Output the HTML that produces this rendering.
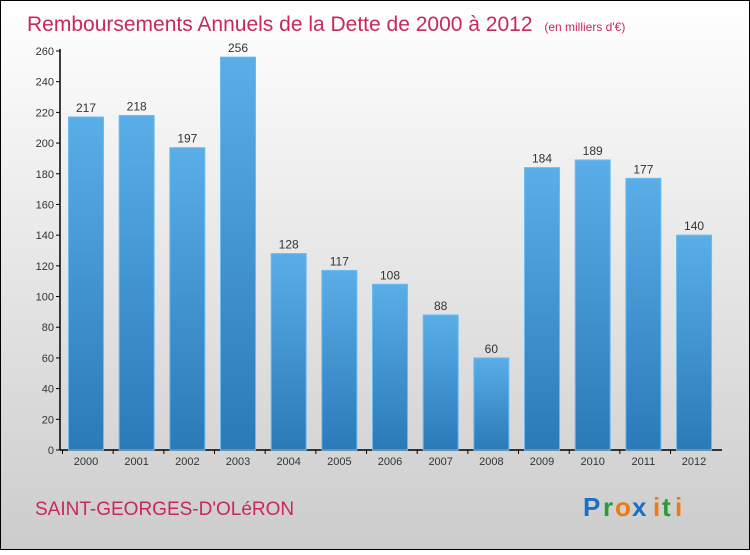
<!DOCTYPE html>
<html><head><meta charset="utf-8"><style>
body{margin:0;width:750px;height:550px;overflow:hidden;font-family:"Liberation Sans",sans-serif}
</style></head><body>
<svg width="750" height="550" xmlns="http://www.w3.org/2000/svg">
<defs>
<linearGradient id="bg" x1="0" y1="0" x2="0" y2="1"><stop offset="0" stop-color="#ffffff"/><stop offset="1" stop-color="#cccccc"/></linearGradient>
<linearGradient id="bar" x1="0" y1="0" x2="0" y2="1"><stop offset="0" stop-color="#5aaee8"/><stop offset="1" stop-color="#2a7ab8"/></linearGradient>
</defs>
<rect x="0.5" y="0.5" width="749" height="549" fill="url(#bg)" stroke="#000"/>
<text x="27" y="31" font-size="21" fill="#c8285a">Remboursements Annuels de la Dette de 2000 à 2012 <tspan font-size="12" dx="6">(en milliers d'€)</tspan></text>
<g id="axes"></g>
<g id="bars"></g>
<text x="35" y="515" font-size="19" fill="#c8285a">SAINT-GEORGES-D'OLéRON</text>
<g font-size="26" font-weight="bold" font-family="'Liberation Sans',sans-serif">
<text x="583" y="516" fill="#1a6fc8">P</text><text x="603" y="516" fill="#2a9a3a">r</text><text x="615" y="516" fill="#f07a10">o</text><text x="632" y="516" fill="#1a6fc8">x</text><text x="653" y="516" fill="#f07a10">i</text><text x="662" y="516" fill="#2a9a3a">t</text><text x="675" y="516" fill="#f07a10">i</text>
</g>
</svg>
<script>
const categories=["2000","2001","2002","2003","2004","2005","2006","2007","2008","2009","2010","2011","2012"];
const values=[217,218,197,256,128,117,108,88,60,184,189,177,140];
const yTicks=[0,20,40,60,80,100,120,140,160,180,200,220,240,260];
const NS="http://www.w3.org/2000/svg";
const y0=450,yTop=51,yMax=260;
const y=v=>y0-(v/yMax)*(y0-yTop);
const x=i=>86+i*50.67;
const bw=35;
function mk(t,a,p,txt){const e=document.createElementNS(NS,t);for(const k in a)e.setAttribute(k,a[k]);if(txt!==undefined)e.textContent=txt;p.appendChild(e);return e;}
const ax=document.getElementById('axes'),bg=document.getElementById('bars');
let l=mk('line',{x1:60,y1:y0,x2:722,y2:y0,stroke:'#000','stroke-width':1.5},ax);


l=mk('line',{x1:60,y1:y0,x2:60,y2:yTop-2,stroke:'#000','stroke-width':1.5},ax);


yTicks.forEach(v=>{
 mk('line',{x1:56,y1:y(v),x2:60,y2:y(v),stroke:'#000'},ax);
 const t=mk('text',{x:54,y:y(v)+4,'text-anchor':'end','font-size':11,fill:'#333'},ax,v);
 
 
});
categories.forEach((c,i)=>{
 const r=mk('rect',{x:x(i)-bw/2,y:y(values[i]),width:bw,height:y0-y(values[i]),fill:'url(#bar)',stroke:'#6bbcf0','stroke-width':1},bg);
 
 
 const lb=mk('text',{x:x(i),y:y(values[i])-5,'text-anchor':'middle','font-size':12,fill:'#333'},bg,values[i]);
 
 
 mk('line',{x1:x(i)-bw/2-6,y1:y0,x2:x(i)-bw/2-6,y2:y0+4,stroke:'#000'},ax);
 const t=mk('text',{x:x(i),y:y0+15,'text-anchor':'middle','font-size':11,fill:'#333'},ax,c);
 
 
});
</script>
</body></html>
